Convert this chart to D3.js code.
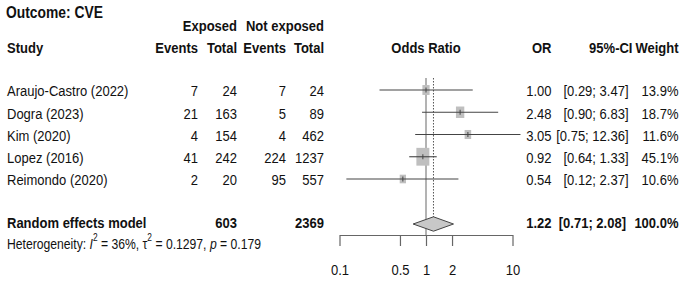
<!DOCTYPE html>
<html><head><meta charset="utf-8">
<script src="https://cdn.jsdelivr.net/npm/d3@7"></script>
<style>
html,body{margin:0;padding:0;background:#fff;}
svg text{font-family:"Liberation Sans",Arial,sans-serif;font-size:15.5px;fill:#111;white-space:pre;}
</style></head>
<body><svg id="c" width="685" height="281"></svg>
<script>
const studies = ["Araujo-Castro (2022)","Dogra (2023)","Kim (2020)","Lopez (2016)","Reimondo (2020)"];
const eventsExp = [7,21,4,41,2];
const totalExp = [24,163,154,242,20];
const eventsCtrl = [7,5,4,224,95];
const totalCtrl = [24,89,462,1237,557];
const orVals = [1.00,2.48,3.05,0.92,0.54];
const ciLower = [0.29,0.90,0.75,0.64,0.12];
const ciUpper = [3.47,6.83,12.36,1.33,2.37];
const weights = [13.9,18.7,11.6,45.1,10.6];
const summaryLabel = "Random effects model";
const summaryTotals = [603,2369];
const summaryOR = 1.22, summaryLower = 0.71, summaryUpper = 2.08, summaryWeight = 100.0;
const axisTicks = [0.1,0.5,1,2,10];
const axisTickLabels = ["0.1","0.5","1","2","10"];

const SX = 0.84; // horizontal condensation of the text
const FS = 15.5;
const svg = d3.select("#c");
const x = d3.scaleLog().domain([0.1,10]).range([339.5,512.5]);
const rowY = d3.scalePoint().domain(d3.range(studies.length)).range([90,179]);
const summaryY = 224;
const f2 = d3.format(".2f");
const f1 = d3.format(".1f");

function txt(xp, yp, s, anchor, bold, size){
  return svg.append("g").attr("transform",`translate(${xp},${yp + 1}) scale(${SX},1)`)
    .append("text").attr("x",0).attr("y",0).attr("text-anchor",anchor||"start")
    .attr("dominant-baseline","central").style("font-weight",bold?"bold":"normal")
    .style("font-size",(size||FS)+"px").text(s);
}
// headers
txt(6,11.5,"Outcome: CVE","start",true,16.5);
txt(237,24.5,"Exposed","end",true);
txt(324,24.5,"Not exposed","end",true);
txt(7,46.5,"Study","start",true);
txt(198,46.5,"Events","end",true);
txt(237,46.5,"Total","end",true);
txt(286,46.5,"Events","end",true);
txt(324,46.5,"Total","end",true);
txt(426,46.5,"Odds Ratio","middle",true);
txt(551.5,46.5,"OR","end",true);
txt(632.5,46.5,"95%-CI","end",true);
txt(678.5,46.5,"Weight","end",true);

// reference lines
svg.append("line").attr("x1",x(1)).attr("x2",x(1)).attr("y1",78).attr("y2",235).attr("stroke","#808080").attr("stroke-width",1.2);
svg.append("line").attr("x1",x(summaryOR)).attr("x2",x(summaryOR)).attr("y1",78).attr("y2",217)
  .attr("stroke","#555").attr("stroke-width",1).attr("stroke-dasharray","1.5,1.5");

// study rows
studies.forEach((s,i)=>{
  const y = rowY(i);
  txt(7,y,s);
  txt(198,y,eventsExp[i],"end");
  txt(237,y,totalExp[i],"end");
  txt(286,y,eventsCtrl[i],"end");
  txt(324,y,totalCtrl[i],"end");
  txt(551.5,y,f2(orVals[i]),"end");
  txt(628.5,y,"["+f2(ciLower[i])+"; "+f2(ciUpper[i])+"]","end");
  txt(678.5,y,f1(weights[i])+"%","end");
  const w = 1.93*Math.sqrt(weights[i]), h = 2.65*Math.sqrt(weights[i]);
  svg.append("rect").attr("x",x(orVals[i])-w/2).attr("y",y-h/2).attr("width",w).attr("height",h).attr("fill","#bfbfbf");
  svg.append("line").attr("x1",x(ciLower[i])).attr("x2",x(ciUpper[i])).attr("y1",y).attr("y2",y).attr("stroke","#444").attr("stroke-width",1.1);
  svg.append("line").attr("x1",x(orVals[i])).attr("x2",x(orVals[i])).attr("y1",y-2.5).attr("y2",y+2.5).attr("stroke","#444").attr("stroke-width",1);
});

// summary
txt(7,summaryY-2,summaryLabel,"start",true);
txt(237,summaryY-2,summaryTotals[0],"end",true);
txt(324,summaryY-2,summaryTotals[1],"end",true);
txt(551.5,summaryY-2,f2(summaryOR),"end",true);
txt(626,summaryY-2,"["+f2(summaryLower)+"; "+f2(summaryUpper)+"]","end",true);
txt(678.5,summaryY-2,f1(summaryWeight)+"%","end",true);
const dh = 7.2;
svg.append("path").attr("d",`M${x(summaryLower)},${summaryY} L${x(summaryOR)},${summaryY-dh} L${x(summaryUpper)},${summaryY} L${x(summaryOR)},${summaryY+dh} Z`)
  .attr("fill","#c8c8c8").attr("stroke","#444").attr("stroke-width",1);

// heterogeneity
const het = svg.append("g").attr("transform",`translate(7,243.5) scale(${SX},1)`)
  .append("text").attr("x",0).attr("y",0).attr("dominant-baseline","central").style("font-size","14.5px");
het.append("tspan").text("Heterogeneity: ");
het.append("tspan").style("font-style","italic").text("I");
het.append("tspan").attr("dy",-6).style("font-size","10px").text("2");
het.append("tspan").attr("dy",6).text(" = 36%, τ");
het.append("tspan").attr("dy",-6).style("font-size","10px").text("2");
het.append("tspan").attr("dy",6).text(" = 0.1297, ");
het.append("tspan").style("font-style","italic").text("p");
het.append("tspan").text(" = 0.179");

// axis
const axis = d3.axisBottom(x).tickValues(axisTicks).tickFormat((d,i)=>axisTickLabels[i]).tickSize(11).tickPadding(18).tickSizeOuter(0);
const g = svg.append("g").attr("transform","translate(0,235)").call(axis);
g.select(".domain").attr("stroke","#666").attr("stroke-width",1.2);
g.selectAll(".tick line").attr("stroke","#666").attr("stroke-width",1.2);
g.selectAll(".tick text").style("font-size",FS+"px").attr("fill","#111").style("font-family",null)
  .attr("transform",`scale(${SX},1)`).attr("x",0).attr("text-anchor","middle");
</script></body></html>
